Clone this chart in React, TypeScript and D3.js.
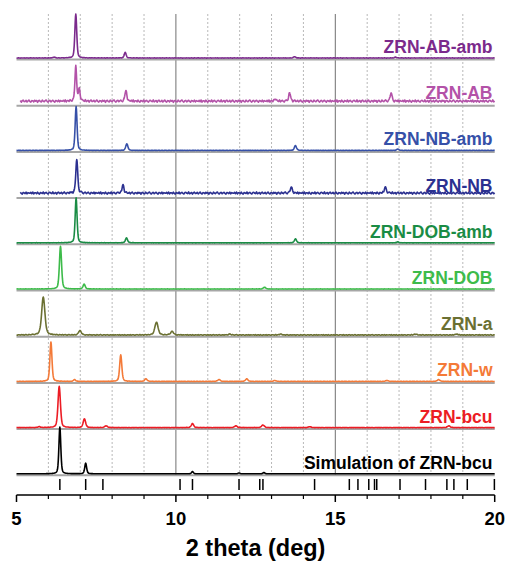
import React from 'react';
import * as d3 from 'd3';

const seriesNames = [
  'ZRN-AB-amb', 'ZRN-AB', 'ZRN-NB-amb', 'ZRN-NB', 'ZRN-DOB-amb',
  'ZRN-DOB', 'ZRN-a', 'ZRN-w', 'ZRN-bcu', 'Simulation of ZRN-bcu',
];
const seriesColors = [
  '#7B2A8C', '#B352A8', '#3650A8', '#2B3090', '#1A8C45',
  '#3DBB4A', '#6B7032', '#F47A38', '#EC1C24', '#000000',
];
// peaks: [2theta, intensity, fwhm]
const peaksABamb = [[6.18, 2, 0.08], [6.86, 100, 0.07], [8.41, 13, 0.07], [13.72, 3, 0.08], [16.89, 2, 0.08]];
const peaksAB = [[6.86, 78, 0.065], [6.97, 28, 0.06], [8.43, 24, 0.07], [13.12, 6, 0.06], [13.57, 19, 0.07], [16.75, 19, 0.07]];
const peaksNBamb = [[6.87, 100, 0.07], [8.46, 15, 0.08], [13.75, 11, 0.08], [16.96, 3, 0.08]];
const peaksNB = [[6.89, 78, 0.07], [8.34, 19, 0.07], [13.62, 13, 0.08], [16.57, 13, 0.08]];
const peaksDOBamb = [[6.87, 102, 0.07], [8.45, 11, 0.08], [13.75, 9, 0.08], [16.96, 2, 0.08]];
const peaksDOB = [[6.38, 97, 0.08], [7.12, 11, 0.08], [12.78, 4, 0.09]];
const peaksA = [[5.84, 86, 0.12], [6.99, 10, 0.1], [9.39, 29, 0.12], [9.88, 8, 0.11], [11.69, 2, 0.1], [13.28, 2, 0.1], [17.51, 2, 0.1], [18.8, 2, 0.1]];
const peaksW = [[6.08, 90, 0.075], [6.82, 4, 0.08], [8.27, 60, 0.08], [9.06, 6, 0.09], [11.35, 4, 0.1], [12.22, 6, 0.09], [13.1, 2, 0.1], [16.62, 2, 0.1], [18.24, 4, 0.1]];
const peaksBcu = [[5.71, 2, 0.09], [6.34, 94, 0.09], [7.13, 20, 0.09], [7.81, 4, 0.1], [10.52, 9, 0.09], [11.88, 4, 0.1], [12.73, 6, 0.1], [14.2, 2, 0.1], [18.56, 4, 0.1]];
const peaksSim = [[6.36, 106, 0.07], [7.17, 24, 0.07], [10.52, 5, 0.07], [11.98, 2, 0.07], [12.76, 3, 0.07]];
const seriesPeaks = [peaksABamb, peaksAB, peaksNBamb, peaksNB, peaksDOBamb, peaksDOB, peaksA, peaksW, peaksBcu, peaksSim];
const backgrounds = [0, 7, 0, 8, 0, 0, 0.5, 0, 0, 0];
const noiseLevels = [0.4, 2.8, 0.4, 2.6, 0.3, 0.3, 0.9, 0.4, 0.4, 0];
const startAngles = [5, 5.12, 5, 5.12, 5, 5, 5, 5, 5, 5];
const noise = [
  0.3, -0.6, 0.8, -0.2, -0.9, 0.5, 0.1, -0.4, 0.9, -0.7, 0.2, 0.6, -0.3, -0.8, 0.4,
  0.7, -0.1, -0.5, 1.0, -0.6, 0.0, 0.5, -0.9, 0.3, 0.8, -0.4, -0.2, 0.6, -0.7, 0.1,
  0.9, -0.3, -0.8, 0.4, 0.2, -0.6, 0.7, -0.1, 0.5, -1.0, 0.3, 0.6, -0.4, -0.7, 0.8,
  0.0, -0.5, 0.4, 0.9, -0.2, -0.8, 0.3, 0.6, -0.6, 0.1, 0.7, -0.3, -0.9, 0.5, 0.2,
  -0.4, 0.8, -0.7, 0.4, 0.0, -0.2, 0.6, -0.5, 0.9, -0.8, 0.2,
];
const reflections = [
  6.36, 7.17, 7.71, 10.13, 10.52, 11.98, 12.63, 12.73, 14.35, 15.44, 15.71,
  16.05, 16.23, 16.3, 17.03, 17.83, 18.5, 18.72, 19.14, 19.99,
];
const majorTicks = [5, 10, 15, 20];
const minorTicks = [6, 7, 8, 9, 11, 12, 13, 14, 16, 17, 18, 19];

const W = 508;
const H = 564;
const FONT = "'Liberation Sans', Arial, sans-serif";

function profile(peaks: number[][], t: number) {
  let s = 0;
  for (const [p, h, w] of peaks) {
    const d = (t - p) / w;
    const g = Math.exp(-4 * Math.LN2 * d * d);
    const l = 1 / (1 + 4 * d * d);
    s += h * (0.6 * g + 0.4 * l);
  }
  return s;
}

function noiseAt(t: number, k: number) {
  const u = (t - 5) / 0.03 + k * 17;
  const i = Math.floor(u);
  const f = u - i;
  const n = noise.length;
  const a = noise[((i % n) + n) % n];
  const b = noise[(((i + 1) % n) + n) % n];
  return a + (b - a) * f;
}

export default function App() {
  const x = d3.scaleLinear().domain([5, 20]).range([16.5, 494.7]);
  const base = d3.scalePoint<string>().domain(seriesNames).range([59, 474.8]);
  const amp = d3.scaleLinear().domain([0, 100]).range([0, 44]);
  const gridTop = 14;
  const gridBottom = 476;
  const axisY = 495;

  const traces = seriesNames.map((name, k) => {
    const b = base(name)! - 1;
    const pts: [number, number][] = [];
    for (let t = startAngles[k]; t <= 20.0001; t += 0.01) {
      const v = backgrounds[k] + profile(seriesPeaks[k], t) + noiseLevels[k] * noiseAt(t, k);
      pts.push([x(t), b - amp(v)]);
    }
    const line = d3.line().curve(d3.curveLinear);
    return line(pts) || '';
  });

  return (
    <svg width={W} height={H} style={{ position: 'absolute', left: 0, top: 0, background: '#fff' }}>
      {minorTicks.map((v) => (
        <line key={'g' + v} x1={x(v)} x2={x(v)} y1={gridTop} y2={gridBottom}
          stroke="#b8b8b8" strokeWidth={1} strokeDasharray="2,2" />
      ))}
      {[10, 15].map((v) => (
        <line key={'s' + v} x1={x(v)} x2={x(v)} y1={gridTop} y2={gridBottom}
          stroke="#707070" strokeWidth={1} />
      ))}
      {seriesNames.map((name) => (
        <line key={'b' + name} x1={x(5)} x2={x(20)} y1={base(name)! + 0.5} y2={base(name)! + 0.5}
          stroke="#a6a6a6" strokeWidth={2} />
      ))}
      {traces.map((d, k) => (
        <path key={'t' + k} d={d} fill="none" stroke={seriesColors[k]} strokeWidth={1.6}
          strokeLinejoin="round" />
      ))}
      {seriesNames.map((name, k) => (
        <text key={'l' + name} x={492.5} y={base(name)! - 6} textAnchor="end"
          fontFamily={FONT} fontWeight="bold" fontSize={17.5} fill={seriesColors[k]}>
          {name}
        </text>
      ))}
      {reflections.map((v, i) => (
        <line key={'r' + i} x1={x(v)} x2={x(v)} y1={479} y2={490} stroke="#000" strokeWidth={1.5} />
      ))}
      <line x1={x(5)} x2={x(20)} y1={axisY} y2={axisY} stroke="#000" strokeWidth={1.5} />
      {majorTicks.map((v) => (
        <g key={'M' + v}>
          <line x1={x(v)} x2={x(v)} y1={axisY} y2={axisY + 7} stroke="#000" strokeWidth={1.5} />
          <text x={x(v)} y={525} textAnchor="middle" fontFamily={FONT} fontWeight="bold"
            fontSize={18.5} fill="#000">{v}</text>
        </g>
      ))}
      {minorTicks.map((v) => (
        <line key={'m' + v} x1={x(v)} x2={x(v)} y1={axisY} y2={axisY + 4} stroke="#000" strokeWidth={1.2} />
      ))}
      <text x={x(12.5)} y={556} textAnchor="middle" fontFamily={FONT} fontWeight="bold"
        fontSize={23.5} fill="#000">2 theta (deg)</text>
    </svg>
  );
}
